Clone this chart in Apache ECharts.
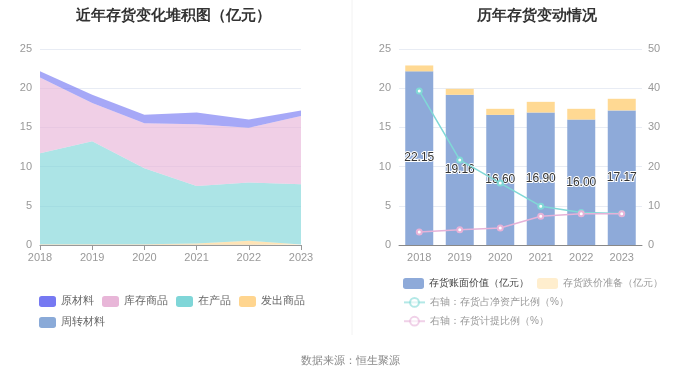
<!DOCTYPE html>
<html>
<head>
<meta charset="utf-8">
<script src="https://cdn.jsdelivr.net/npm/echarts@6/dist/echarts.min.js"></script>
<style>
  html, body { margin: 0; padding: 0; background: #fff; }
  #main { width: 700px; height: 377px; }
</style>
</head>
<body>
<div id="main"></div>
<script>
// 年份
const years = ['2018', '2019', '2020', '2021', '2022', '2023']

// 左图：存货构成（亿元）
const rawMaterial = [0.78, 1.06, 1.06, 1.49, 1.06, 0.70]   // 原材料
const stockGoods = [9.67, 4.86, 5.75, 7.88, 6.98, 8.72]    // 库存商品
const wip = [11.6, 13.14, 9.69, 7.33, 7.41, 7.70]          // 在产品
const shipped = [0.08, 0.08, 0.08, 0.18, 0.53, 0.05]       // 发出商品
const turnover = [0.02, 0.02, 0.02, 0.02, 0.02, 0.00]      // 周转材料

// 右图
const bookValue = [22.15, 19.16, 16.60, 16.90, 16.00, 17.17]  // 存货账面价值
const impairment = [0.75, 0.76, 0.77, 1.36, 1.37, 1.48]       // 存货跌价准备
const netAssetRatio = [39.3, 21.7, 15.8, 9.9, 8.3, 8.05]      // 存货占净资产比例
const provisionRatio = [3.3, 3.9, 4.35, 7.33, 8.0, 8.0]       // 存货计提比例

const chart = echarts.init(document.getElementById('main'))

const axisLabelStyle = { color: '#999', fontSize: 11 }
const splitLineStyle = { lineStyle: { color: '#e8ecf4' } }
const legendText = { color: '#666', fontSize: 10.5 }

function areaSeries(name, data, color) {
  return {
    name: name,
    type: 'line',
    stack: 'total',
    data: data,
    xAxisIndex: 0,
    yAxisIndex: 0,
    symbol: 'none',
    lineStyle: { width: 0 },
    itemStyle: { color: color },
    areaStyle: { color: color, opacity: 0.65 }
  }
}

const option = {
  animation: false,
  title: [
    {
      text: '近年存货变化堆积图（亿元）',
      left: 168, top: 3, textAlign: 'center',
      textStyle: { fontSize: 15, fontWeight: 'bold', color: '#333' }
    },
    {
      text: '历年存货变动情况',
      left: 532, top: 3, textAlign: 'center',
      textStyle: { fontSize: 15, fontWeight: 'bold', color: '#333' }
    }
  ],
  graphic: [
    {
      type: 'line',
      shape: { x1: 352, y1: 0, x2: 352, y2: 335 },
      style: { stroke: '#f2f2f2', lineWidth: 1 }
    },
    {
      type: 'text',
      left: 'center', top: 355,
      style: { text: '数据来源：恒生聚源', fill: '#888', fontSize: 11 }
    }
  ],
  legend: [
    {
      left: 34, top: 291,
      itemWidth: 17, itemHeight: 11, itemGap: 8,
      icon: 'roundRect',
      textStyle: legendText,
      data: ['原材料', '库存商品', '在产品', '发出商品']
    },
    {
      left: 34, top: 312,
      itemWidth: 17, itemHeight: 11, itemGap: 8,
      icon: 'roundRect',
      textStyle: legendText,
      data: ['周转材料']
    },
    {
      left: 398, top: 273,
      itemWidth: 21, itemHeight: 11, itemGap: 8,
      icon: 'roundRect',
      textStyle: { color: '#999', fontSize: 10 },
      data: [
        { name: '存货账面价值（亿元）', textStyle: { color: '#444' } },
        { name: '存货跌价准备（亿元）', itemStyle: { opacity: 0.45 } }
      ]
    },
    {
      left: 398, top: 292, orient: 'vertical',
      itemWidth: 21, itemHeight: 11, itemGap: 8,
      textStyle: { color: '#999', fontSize: 10 },
      data: [
        { name: '右轴：存货占净资产比例（%）', itemStyle: { opacity: 0.6 }, lineStyle: { opacity: 0.6 } },
        { name: '右轴：存货计提比例（%）', itemStyle: { opacity: 0.6 }, lineStyle: { opacity: 0.6 } }
      ]
    }
  ],
  grid: [
    { left: 40, right: 399, top: 49, bottom: 132 },
    { left: 399, right: 58, top: 49, bottom: 132 }
  ],
  xAxis: [
    {
      type: 'category', gridIndex: 0, data: years, boundaryGap: false,
      axisLine: { lineStyle: { color: '#999' } },
      axisTick: { lineStyle: { color: '#999' } },
      axisLabel: Object.assign({ margin: 7 }, axisLabelStyle)
    },
    {
      type: 'category', gridIndex: 1, data: years,
      axisLine: { lineStyle: { color: '#888' } },
      axisTick: { show: false },
      axisLabel: Object.assign({ margin: 7 }, axisLabelStyle)
    }
  ],
  yAxis: [
    {
      type: 'value', gridIndex: 0, min: 0, max: 25, interval: 5,
      axisLabel: axisLabelStyle, splitLine: splitLineStyle
    },
    {
      type: 'value', gridIndex: 1, min: 0, max: 25, interval: 5,
      axisLabel: axisLabelStyle, splitLine: splitLineStyle
    },
    {
      type: 'value', gridIndex: 1, min: 0, max: 50, interval: 10, position: 'right',
      axisLabel: Object.assign({ margin: 6 }, axisLabelStyle), splitLine: { show: false }
    }
  ],
  series: [
    areaSeries('周转材料', turnover, '#8aaad8'),
    areaSeries('发出商品', shipped, '#ffd58f'),
    areaSeries('在产品', wip, '#7fd6d8'),
    areaSeries('库存商品', stockGoods, '#e8b6d8'),
    areaSeries('原材料', rawMaterial, '#7679f2'),
    {
      name: '存货账面价值（亿元）',
      type: 'bar', stack: 'bar', xAxisIndex: 1, yAxisIndex: 1,
      barWidth: 28,
      data: bookValue,
      itemStyle: { color: '#8eaad9' },
      label: {
        show: true, position: 'inside',
        formatter: p => p.value.toFixed(2),
        color: '#333', fontSize: 12,
        textBorderColor: '#fff', textBorderWidth: 2
      }
    },
    {
      name: '存货跌价准备（亿元）',
      type: 'bar', stack: 'bar', xAxisIndex: 1, yAxisIndex: 1,
      barWidth: 28,
      data: impairment,
      itemStyle: { color: '#ffd993' }
    },
    {
      name: '右轴：存货占净资产比例（%）',
      type: 'line', xAxisIndex: 1, yAxisIndex: 2,
      data: netAssetRatio,
      symbol: 'emptyCircle', symbolSize: 5,
      lineStyle: { width: 1.5, color: '#80d8d6' },
      itemStyle: { color: '#80d8d6' }
    },
    {
      name: '右轴：存货计提比例（%）',
      type: 'line', xAxisIndex: 1, yAxisIndex: 2,
      data: provisionRatio,
      symbol: 'emptyCircle', symbolSize: 5,
      lineStyle: { width: 1.5, color: '#e6b2d8' },
      itemStyle: { color: '#e6b2d8' }
    }
  ]
}

chart.setOption(option)
</script>
</body>
</html>
